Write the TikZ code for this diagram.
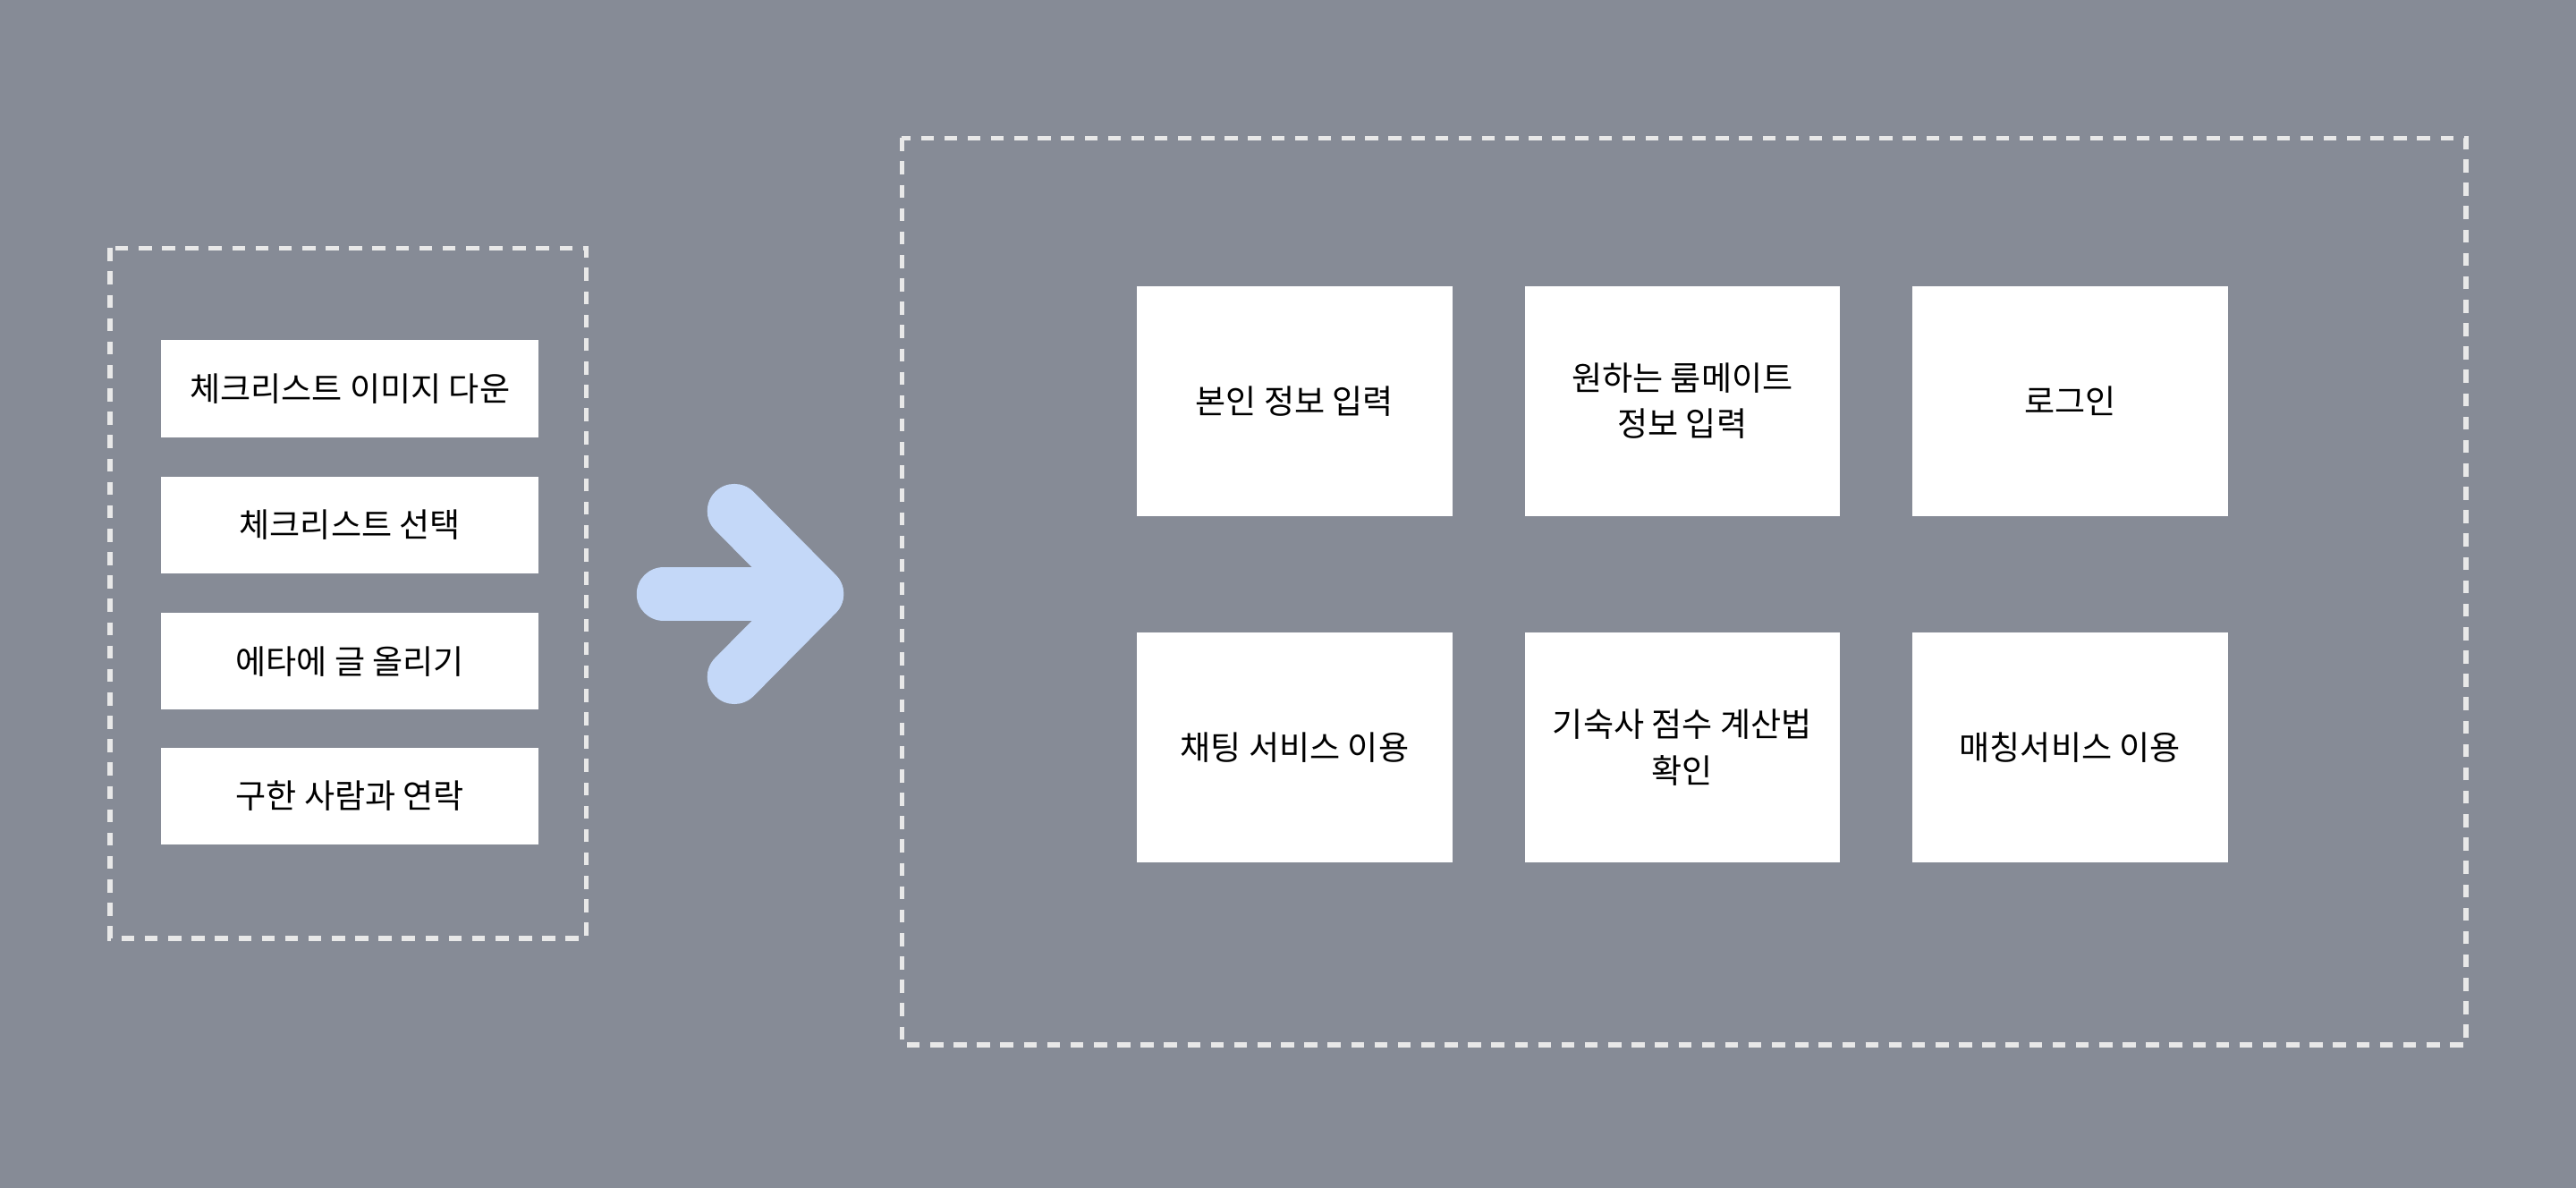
\documentclass[tikz,border=0pt]{standalone}
\usepackage{fontspec}
\setmainfont{Noto Sans CJK KR}
\definecolor{bg}{HTML}{868B96}
\definecolor{arr}{HTML}{C4D8F8}
\definecolor{dash}{HTML}{E8E8E8}
\begin{document}
\begin{tikzpicture}[x=0.02cm,y=-0.02cm,
  frame/.style={draw=dash,line width=1.7pt,dash pattern=on 4.5pt off 3.6pt},
  item/.style={fill=white,minimum width=4.6cm,minimum height=1.18cm,font=\fontsize{11.5}{14}\selectfont,inner sep=0pt},
  card/.style={fill=white,minimum width=3.84cm,minimum height=2.8cm,font=\fontsize{11.5}{16}\selectfont,align=center,inner sep=0pt}]
\fill[bg] (0,0) rectangle (1568,723);
\useasboundingbox (0,0) rectangle (1568,723);
\draw[frame] (67,151) rectangle (357,571);
\draw[frame] (549,84) rectangle (1501,636);
\node[item] (l1) at (213,236.5) {체크리스트 이미지 다운};
\node[item] (l2) at (213,319.5) {체크리스트 선택};
\node[item] (l3) at (213,402.5) {에타에 글 올리기};
\node[item] (l4) at (213,484.5) {구한 사람과 연락};
\node[card] (c1) at (788,244) {본인 정보 입력};
\node[card] (c2) at (1024,244) {원하는 룸메이트\\정보 입력};
\node[card] (c3) at (1260,244) {로그인};
\node[card] (c4) at (788,455) {채팅 서비스 이용};
\node[card] (c5) at (1024,455) {기숙사 점수 계산법\\확인};
\node[card] (c6) at (1260,455) {매칭서비스 이용};
\coordinate (a0) at (404,361.5);
\coordinate (a1) at (497,361.5);
\coordinate (a2) at (447,311);
\coordinate (a3) at (447,412);
\draw[arr,line width=0.66cm,line cap=round] (a0) -- (a1);
\draw[arr,line width=0.66cm,line cap=round,line join=round] (a2) -- (a1) -- (a3);
\end{tikzpicture}
\end{document}
